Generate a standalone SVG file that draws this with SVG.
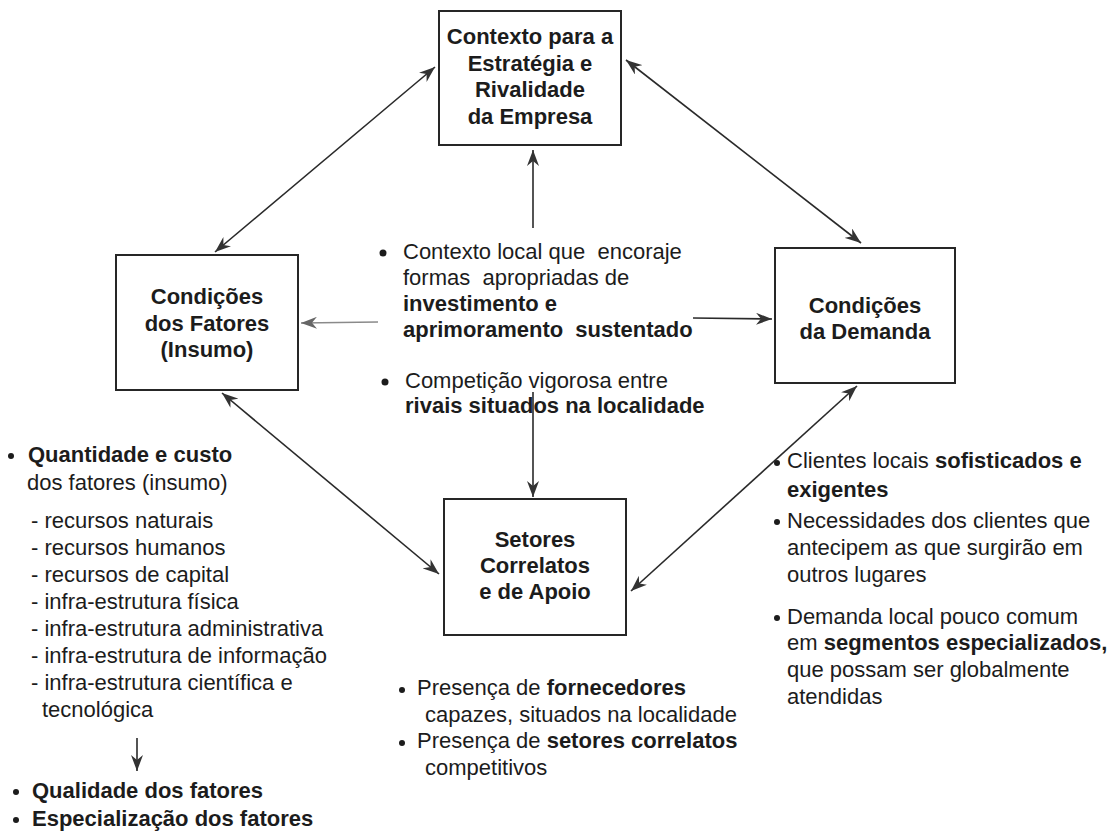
<svg xmlns="http://www.w3.org/2000/svg" width="1115" height="839" viewBox="0 0 1115 839">
<defs>
<style>
text{font-family:"Liberation Sans",Arial,sans-serif;font-size:22px;fill:#1c1c1c}
.t{font-weight:bold;text-anchor:middle}
.b{font-weight:bold}
.box{fill:#fff;stroke:#262626;stroke-width:2}
.c{stroke:#2a2a2a;stroke-width:1.6;fill:none}
.g{stroke:#8a8a8a;stroke-width:1.6;fill:none}
.dot{fill:#1c1c1c}
</style>
<marker id="ah" viewBox="0 0 16 12" refX="16" refY="6" markerWidth="16" markerHeight="12" markerUnits="userSpaceOnUse" orient="auto-start-reverse">
<path d="M0,0 L16,6 L0,12 L5,6 z" fill="#333"/>
</marker>
<marker id="ahg" viewBox="0 0 16 12" refX="16" refY="6" markerWidth="16" markerHeight="12" markerUnits="userSpaceOnUse" orient="auto-start-reverse">
<path d="M0,0 L16,6 L0,12 L5,6 z" fill="#666"/>
</marker>
</defs>
<rect width="1115" height="839" fill="#fff"/>
<g id="connectors">
<line class="c" x1="215" y1="252" x2="435" y2="67" marker-start="url(#ah)" marker-end="url(#ah)"/>
<line class="c" x1="626" y1="60" x2="861" y2="243" marker-start="url(#ah)" marker-end="url(#ah)"/>
<line class="c" x1="222" y1="393" x2="439" y2="574" marker-start="url(#ah)" marker-end="url(#ah)"/>
<line class="c" x1="857" y1="386" x2="631" y2="591" marker-start="url(#ah)" marker-end="url(#ah)"/>
<line class="c" x1="533" y1="228" x2="533" y2="150" marker-end="url(#ah)"/>
<line class="c" x1="533" y1="392" x2="533" y2="497" marker-end="url(#ah)"/>
<line class="g" x1="378" y1="322" x2="301" y2="323" marker-end="url(#ahg)"/>
<line class="c" x1="693" y1="318" x2="772" y2="319" marker-end="url(#ah)"/>
<line class="c" x1="137" y1="738" x2="137" y2="771" marker-end="url(#ah)"/>
</g>
<g id="node-contexto">
<rect class="box" x="439" y="11" width="182" height="134"/>
<text class="t" x="530" y="44">Contexto para a</text>
<text class="t" x="530" y="71">Estratégia e</text>
<text class="t" x="530" y="97">Rivalidade</text>
<text class="t" x="530" y="124">da Empresa</text>
</g>
<g id="node-fatores">
<rect class="box" x="116" y="255" width="182" height="135"/>
<text class="t" x="207" y="304">Condições</text>
<text class="t" x="207" y="331">dos Fatores</text>
<text class="t" x="207" y="357">(Insumo)</text>
</g>
<g id="node-demanda">
<rect class="box" x="775" y="248" width="180" height="135"/>
<text class="t" x="865" y="313">Condições</text>
<text class="t" x="865" y="339">da Demanda</text>
</g>
<g id="node-setores">
<rect class="box" x="444" y="499" width="182" height="136"/>
<text class="t" x="535" y="547">Setores</text>
<text class="t" x="535" y="573">Correlatos</text>
<text class="t" x="535" y="599">e de Apoio</text>
</g>
<g id="text-center">
<circle class="dot" cx="383" cy="253" r="3.5"/>
<text x="403" y="259" xml:space="preserve">Contexto local que  encoraje</text>
<text x="403" y="285" xml:space="preserve">formas  apropriadas de</text>
<text class="b" x="403" y="311">investimento e</text>
<text class="b" x="403" y="337" xml:space="preserve">aprimoramento  sustentado</text>
<circle class="dot" cx="385" cy="382" r="3.5"/>
<text x="405" y="388">Competição vigorosa entre</text>
<text class="b" x="405" y="413">rivais situados na localidade</text>
</g>
<g id="text-left">
<circle class="dot" cx="11" cy="456" r="3"/>
<text class="b" x="28" y="462">Quantidade e custo</text>
<text x="27" y="490">dos fatores (insumo)</text>
<text x="31" y="528">- recursos naturais</text>
<text x="31" y="555">- recursos humanos</text>
<text x="31" y="582">- recursos de capital</text>
<text x="31" y="609">- infra-estrutura física</text>
<text x="31" y="636">- infra-estrutura administrativa</text>
<text x="31" y="663">- infra-estrutura de informação</text>
<text x="31" y="690">- infra-estrutura científica e</text>
<text x="42" y="717">tecnológica</text>
<circle class="dot" cx="16" cy="792" r="3"/>
<text class="b" x="32" y="798">Qualidade dos fatores</text>
<circle class="dot" cx="16" cy="820" r="3"/>
<text class="b" x="32" y="826">Especialização dos fatores</text>
</g>
<g id="text-right">
<circle class="dot" cx="777" cy="463" r="3"/>
<text x="787" y="468">Clientes locais <tspan class="b">sofisticados e</tspan></text>
<text class="b" x="787" y="497">exigentes</text>
<circle class="dot" cx="777" cy="522" r="3"/>
<text x="787" y="528">Necessidades dos clientes que</text>
<text x="787" y="555">antecipem as que surgirão em</text>
<text x="787" y="582">outros lugares</text>
<circle class="dot" cx="777" cy="618" r="3"/>
<text x="787" y="624">Demanda local pouco comum</text>
<text x="787" y="650">em <tspan class="b">segmentos especializados,</tspan></text>
<text x="787" y="677">que possam ser globalmente</text>
<text x="787" y="704">atendidas</text>
</g>
<g id="text-bottom">
<circle class="dot" cx="402" cy="690" r="3"/>
<text x="417" y="695">Presença de <tspan class="b">fornecedores</tspan></text>
<text x="425" y="722">capazes, situados na localidade</text>
<circle class="dot" cx="402" cy="743" r="3"/>
<text x="417" y="748">Presença de <tspan class="b">setores correlatos</tspan></text>
<text x="425" y="775">competitivos</text>
</g>
</svg>
